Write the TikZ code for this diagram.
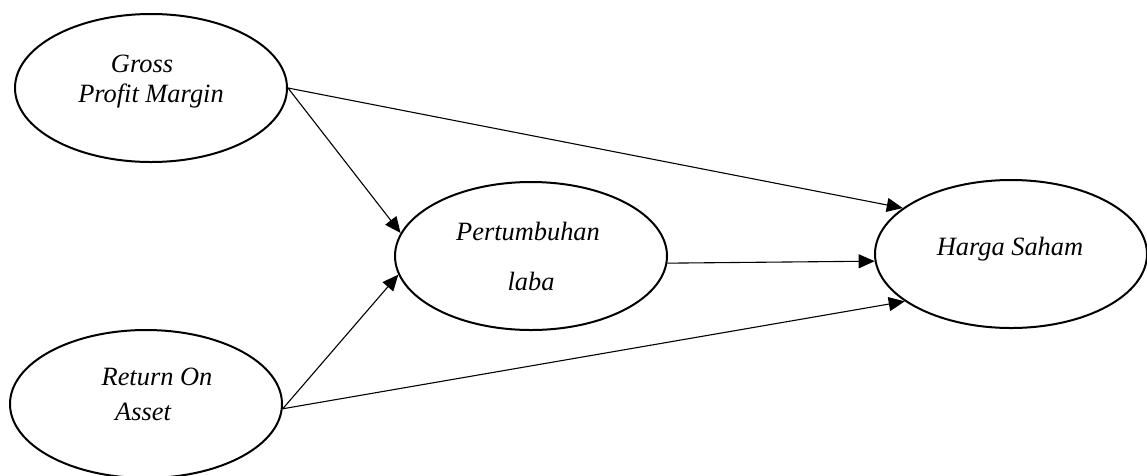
\documentclass[tikz,border=0pt]{standalone}
\usepackage{fontspec}
\setmainfont{Liberation Serif}
\usetikzlibrary{shapes.geometric,arrows.meta}
\tikzset{
  oval/.style={draw, line width=2pt, ellipse, minimum width=272pt, minimum height=148pt, inner sep=0pt},
  lbl/.style={anchor=base, inner sep=0pt, font=\fontsize{26.4}{30}\selectfont\itshape},
  link/.style={line width=1.1pt, -{Triangle[length=16pt,width=14pt]}}
}
\begin{document}
\begin{tikzpicture}[x=1pt,y=-1pt]
\useasboundingbox (0,0) rectangle (1147,475);
\node[oval] (g) at (151,88) {};
\node[oval] (r) at (146,404) {};
\node[oval] (p) at (531,256) {};
\node[oval] (h) at (1011,254) {};
\node[lbl] (g1) at (142,72) {Gross};
\node[lbl] (g2) at (151,102) {Profit Margin};
\node[lbl] (r1) at (157,385) {Return On};
\node[lbl] (r2) at (143,420) {Asset};
\node[lbl] (p1) at (528,240) {Pertumbuhan};
\node[lbl] (p2) at (531,290) {laba};
\node[lbl] (h1) at (1010,255) {Harga Saham};
\draw[link] (g.east) -- (p.170);
\draw[link] (g.east) -- (h.157);
\draw[link] (r.-2) -- (p.188);
\draw[link] (r.-2) -- (h.204);
\draw[link] (p.-3) -- (h.183);
\end{tikzpicture}
\end{document}
